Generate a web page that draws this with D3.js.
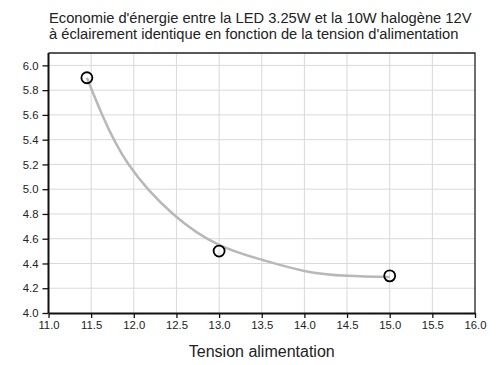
<!DOCTYPE html>
<html>
<head>
<meta charset="utf-8">
<script src="https://cdn.jsdelivr.net/npm/d3@7"></script>
<style>
  body { margin: 0; background: #fff; }
  svg { font-family: "Liberation Sans", Arial, sans-serif; }
</style>
</head>
<body>
<div id="chart"></div>
<script>
// mesures (tension, rapport)
var mesuresX = [11.45, 13.0, 15.0];
var mesuresY = [5.9, 4.5, 4.3];

// courbe de tendance
var courbeX = [11.45, 11.63, 11.94, 12.46, 13.0, 13.5, 14.0, 14.5, 15.0];
var courbeY = [5.9, 5.6, 5.2, 4.8, 4.55, 4.43, 4.34, 4.3, 4.29];

var xTicks = [11.0, 11.5, 12.0, 12.5, 13.0, 13.5, 14.0, 14.5, 15.0, 15.5, 16.0];
var yTicks = [4.0, 4.2, 4.4, 4.6, 4.8, 5.0, 5.2, 5.4, 5.6, 5.8, 6.0];

var titre = [
  "Economie d'énergie entre la LED 3.25W et la 10W halogène 12V",
  "à éclairement identique en fonction de la tension d'alimentation"
];
var titreX = "Tension alimentation";

var width = 500, height = 365;
var margin = { top: 53, right: 25, bottom: 52, left: 48.5 };

var svg = d3
  .select("#chart")
  .append("svg")
  .attr("width", width)
  .attr("height", height);

var x = d3.scaleLinear().domain([11, 16]).range([margin.left, width - margin.right]);
var y = d3.scaleLinear().domain([4, 6.1]).range([height - margin.bottom, margin.top]);

// grille
svg
  .append("g")
  .selectAll("line.vx")
  .data(xTicks.slice(1, -1))
  .enter()
  .append("line")
  .attr("x1", (d) => x(d))
  .attr("x2", (d) => x(d))
  .attr("y1", y(4))
  .attr("y2", y(6.1))
  .style("stroke", "#d9d9d9")
  .style("stroke-width", "1px");

svg
  .append("g")
  .selectAll("line.hy")
  .data(yTicks.slice(1))
  .enter()
  .append("line")
  .attr("x1", x(11))
  .attr("x2", x(16))
  .attr("y1", (d) => y(d))
  .attr("y2", (d) => y(d))
  .style("stroke", "#d9d9d9")
  .style("stroke-width", "1px");

// cadre haut et droite
svg
  .append("path")
  .attr("d", "M" + x(11) + "," + y(6.1) + "H" + x(16) + "V" + y(4))
  .attr("fill", "none")
  .style("stroke", "#222")
  .style("stroke-width", "1.3px");

// courbe
var pts = courbeX.map((d, i) => [d, courbeY[i]]);
var ligne = d3
  .line()
  .x((d) => x(d[0]))
  .y((d) => y(d[1]))
  .curve(d3.curveNatural);

svg
  .append("path")
  .attr("d", ligne(pts))
  .attr("fill", "none")
  .style("stroke", "#b8b8b8")
  .style("stroke-width", "2.5px");

// axes
var xAxis = d3
  .axisBottom(x)
  .tickValues(xTicks)
  .tickFormat(d3.format(".1f"))
  .tickSize(5)
  .tickSizeOuter(0)
  .tickPadding(3);

var yAxis = d3
  .axisLeft(y)
  .tickValues(yTicks)
  .tickFormat(d3.format(".1f"))
  .tickSize(6)
  .tickSizeOuter(0)
  .tickPadding(4);

var gx = svg
  .append("g")
  .attr("transform", "translate(0," + y(4) + ")")
  .call(xAxis);
var gy = svg
  .append("g")
  .attr("transform", "translate(" + x(11) + ",0)")
  .call(yAxis);

[gx, gy].forEach(function (g) {
  g.select(".domain").style("stroke", "#111").style("stroke-width", "2px");
  g.selectAll(".tick line").style("stroke", "#111").style("stroke-width", "1.3px");
  g.selectAll(".tick text")
    .style("font-family", "Liberation Sans, Arial, sans-serif")
    .style("font-size", "11.3px")
    .style("fill", "#222");
});
gy.select(".domain").attr("d", "M0," + y(4) + "V" + y(6.1));

// points
svg
  .append("g")
  .selectAll("circle")
  .data(mesuresX)
  .enter()
  .append("circle")
  .attr("cx", (d) => x(d))
  .attr("cy", (d, i) => y(mesuresY[i]))
  .attr("r", 5.5)
  .attr("fill", "none")
  .style("stroke", "#000")
  .style("stroke-width", "1.8px");

// titres
svg
  .append("g")
  .selectAll("text")
  .data(titre)
  .enter()
  .append("text")
  .attr("x", 49)
  .attr("y", (d, i) => 23 + i * 15.5)
  .style("font-size", "14.7px")
  .style("fill", "#222")
  .text((d) => d);

svg
  .append("text")
  .attr("x", (x(11) + x(16)) / 2)
  .attr("y", 357)
  .attr("text-anchor", "middle")
  .style("font-size", "16px")
  .style("fill", "#222")
  .text(titreX);
</script>
</body>
</html>
